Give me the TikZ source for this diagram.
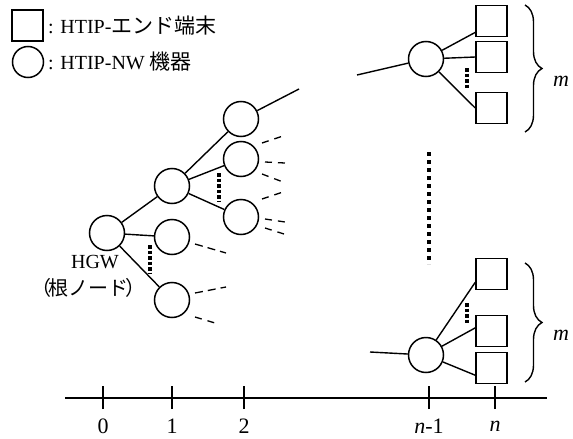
\documentclass[tikz,border=0pt]{standalone}
\usepackage{fontspec}
\setmainfont{Liberation Serif}
\newfontfamily\jp{Noto Sans CJK JP}
\usetikzlibrary{decorations.pathreplacing}
\newcommand\jpbig{\jp\fontsize{21pt}{24pt}\selectfont}
\begin{document}
\begin{tikzpicture}[x=1pt,y=-1pt,
  every node/.style={font=\fontsize{20pt}{24pt}\selectfont, inner sep=0pt},
  big/.style={font=\fontsize{22pt}{26pt}\selectfont},
  nw/.style={circle, draw, line width=1.5pt, minimum size=35pt},
  term/.style={rectangle, draw, line width=1.5pt, minimum size=31pt},
  link/.style={line width=1.4pt},
  ray/.style={line width=1.3pt, dash pattern=on 7pt off 6pt},
  shortdots/.style={line width=3.5pt, dash pattern=on 3.5pt off 2pt},
  longdots/.style={line width=4pt, dash pattern=on 4pt off 4pt},
  grp/.style={line width=1.4pt, decorate, decoration={brace, amplitude=17pt, aspect=0.5}},
  tick/.style={line width=1.4pt}]
\useasboundingbox (0,0) rectangle (573,439);

% legend
\node[term] (lgsq) at (27.5,25.5) {};
\node[nw, minimum size=31pt] (lgci) at (28,62) {};
\node[anchor=west] (lgt1) at (48,26) {: HTIP-{\jpbig エンド端末}};
\node[anchor=west] (lgt2) at (48,62) {: HTIP-NW {\jpbig 機器}};

% tree near the root
\node[nw] (root) at (107,233) {};
\node[nw] (a1) at (172,186) {};
\node[nw] (a2) at (172,237) {};
\node[nw] (a3) at (172,300) {};
\node[nw] (b1) at (241,119) {};
\node[nw] (b2) at (241,159) {};
\node[nw] (b3) at (241,217) {};
\coordinate (b1out) at (299,89);

\draw[link] (root) -- (a1);
\draw[link] (root) -- (a2);
\draw[link] (root) -- (a3);
\draw[link] (a1) -- (b1);
\draw[link] (a1) -- (b2);
\draw[link] (a1) -- (b3);
\draw[link] (b1) -- (b1out);

\node (hgw) at (95,262) {HGW};
\node (hgwj) at (88,288) {\jp （\kern-3pt 根ノード\kern-3pt ）};

% omitted children
\draw[shortdots] (150,245) -- (150,273);
\draw[shortdots] (219,173) -- (219,202);

\draw[ray] (262,143) -- (283,136);
\draw[ray] (265,162) -- (285,163);
\draw[ray] (262,174) -- (283,182);
\draw[ray] (262,199) -- (283,192);
\draw[ray] (265,219) -- (285,222);
\draw[ray] (265,228) -- (284,234);
\draw[ray, dash pattern=on 8pt off 5pt] (195,244) -- (226,253);
\draw[ray, dash pattern=on 8pt off 5pt] (195,293) -- (226,287);
\draw[ray] (195,317) -- (215,323);

% middle levels
\draw[longdots] (429,152) -- (429,264);

% upper leaf group
\node[nw] (t) at (426,59) {};
\coordinate (tin) at (357,75);
\node[term] (t1) at (491.5,21) {};
\node[term] (t2) at (491.5,57) {};
\node[term] (t3) at (491.5,108) {};
\draw[link] (tin) -- (t);
\draw[link] (t) -- (t1.215);
\draw[link] (t) -- (t2.180);
\draw[link] (t) -- (t3.180);
\draw[shortdots] (467,68) -- (467,88);
\draw[grp] (525,5) -- (525,132);
\node[big] (m1) at (561,81) {\textit{m}};

% lower leaf group
\node[nw] (u) at (426,355) {};
\coordinate (uin) at (370,352);
\node[term] (u1) at (491.5,274) {};
\node[term] (u2) at (491.5,331) {};
\node[term] (u3) at (491.5,368) {};
\draw[link] (uin) -- (u);
\draw[link] (u) -- (u1.207);
\draw[link] (u) -- (u2.169);
\draw[link] (u) -- (u3.204);
\draw[shortdots] (467,303) -- (467,323);
\draw[grp] (525,263) -- (525,382);
\node[big] (m2) at (561,335) {\textit{m}};

% depth axis
\coordinate (axl) at (65,398);
\coordinate (axr) at (547,398);
\draw[line width=1.5pt] (axl) -- (axr);
\foreach \x/\lab/\nm in {103/0/d0, 172/1/d1, 244/2/d2, 429/\textit{n}-1/dn1, 495/\textit{n}/dn} {
  \coordinate (\nm) at (\x,398);
  \draw[tick] ([yshift=-11pt]\nm) -- ([yshift=12pt]\nm);
  \node[big] (\nm-lab) at (\x,426) {\lab};
}
\end{tikzpicture}
\end{document}
